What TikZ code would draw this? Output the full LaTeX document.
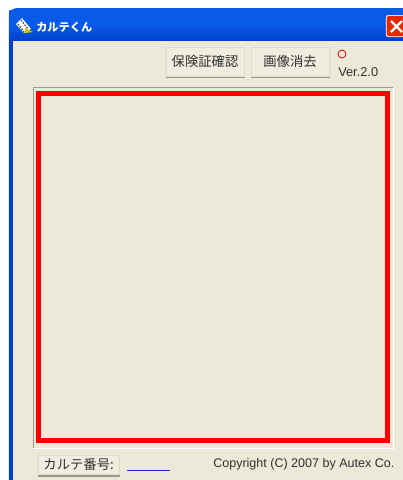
\documentclass[tikz,border=0pt]{standalone}
\usepackage{fontspec}
\setmainfont{Liberation Sans}
\newfontfamily\cjk{Noto Sans CJK JP}
\usetikzlibrary{shadings}
\definecolor{face}{HTML}{ECE9D8}
\definecolor{xpblue}{HTML}{0A5AE8}
\definecolor{xpdark}{HTML}{0041C8}
\definecolor{btnline}{HTML}{DEDBCC}
\definecolor{btnshade}{HTML}{9A9888}
\definecolor{groove}{HTML}{9D9B8C}
\definecolor{txt}{HTML}{303030}
\tikzset{
  x=0.75pt,y=-0.75pt,
  xpbutton/.style={draw=btnline,line width=0.4pt,fill=face!80!white,inner sep=0pt,
    text=txt,font=\cjk\fontsize{10}{11}\selectfont},
  plain/.style={inner sep=0pt,text=txt},
}
\begin{document}
\begin{tikzpicture}
\useasboundingbox (0,0) rectangle (403,480);
\fill[white] (0,0) rectangle (403,480);
% window frame
\fill[xpblue] (9,480) -- (9,16) .. controls (9,11) and (12,8) .. (18,8) -- (403,8) -- (403,480) -- cycle;
\shade[top color=xpblue,bottom color=xpdark,middle color=xpblue] (9.5,10) -- (403,10) -- (403,40) -- (9.5,40) -- cycle;
\fill[xpdark] (9,40) rectangle (13,480);
\fill[face] (13,41) rectangle (403,480);
% close button
\fill[rounded corners=1.5pt,fill=white!70!orange] (386,15) rectangle (404,37);
\fill[rounded corners=1pt,fill=red!65!orange!90!black] (387,16) rectangle (404,36);
\draw[white,line width=1.8pt] (391,21) -- (402,32) (402,21) -- (391,32);
% title icon
\fill[white] (16,24) -- (22,18) -- (31,29) -- (24,33) -- cycle;
\draw[black!75,line width=0.9pt,dash pattern=on 1.2pt off 1pt] (18,24) -- (24,32) (21,20) -- (28,29);
\fill[yellow!55!olive] (25,28) -- (33,32) -- (25,33) -- cycle;
\node[anchor=west,inner sep=0pt,text=white,font=\cjk\bfseries\fontsize{8.4}{10}\selectfont] (title) at (36,27) {カルテくん};
% group frame
\draw[groove,line width=0.9pt] (33.6,448) -- (33.6,87.6) -- (393.5,87.6);
\draw[white,line width=0.75pt] (33.5,448.3) -- (394,448.3) -- (394,87.5);
% red canvas
\draw[red,line width=3.9pt] (38.6,93.4) rectangle (387.6,440.4);
% buttons
\fill[btnshade] (166,48) rectangle (245.5,77.5);
\node[xpbutton,minimum width=58.2pt,minimum height=21.4pt,anchor=north west] (check) at (166,47) {保険証確認};
\fill[btnshade] (251,48) rectangle (330.5,77.5);
\node[xpbutton,minimum width=58.2pt,minimum height=21.4pt,anchor=north west] (clear) at (251,47) {画像消去};
% status lamp and version
\node[draw=red!85!black,line width=0.6pt,circle,minimum size=6pt,inner sep=0pt] (lamp) at (342,54) {};
\node[plain,anchor=west,font=\fontsize{9.6}{11}\selectfont] (ver) at (338,72.5) {Ver.2.0};
% bottom row
\fill[btnshade] (38,456) rectangle (120.5,476.5);
\node[xpbutton,minimum width=60.6pt,minimum height=14.6pt,anchor=north west] (num) at (38,455) {カルテ番号:};
\coordinate (lineA) at (127,470);
\coordinate (lineB) at (170,470);
\draw[blue!70!gray,line width=0.6pt] (lineA) -- (lineB);
\node[plain,anchor=west,font=\fontsize{9.4}{11}\selectfont] (copy) at (213,464) {Copyright (C) 2007 by Autex Co.};
\end{tikzpicture}
\end{document}
